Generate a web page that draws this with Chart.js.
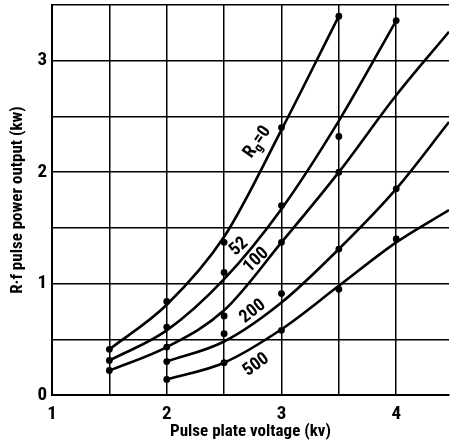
<!DOCTYPE html>
<html>
<head>
<meta charset="utf-8">
<script src="https://cdn.jsdelivr.net/npm/chart.js@4/dist/chart.umd.min.js"></script>
<style>
  html, body { margin: 0; padding: 0; background: #fff; }
  #wrap { width: 453px; height: 446px; position: relative; }
</style>
</head>
<body>
<div id="wrap"><canvas id="c" width="453" height="446"></canvas></div>
<script>
// ---- data ----
const xTicks = [1, 2, 3, 4];
const yTicks = [0, 1, 2, 3];
const seriesNames = ['0', '52', '100', '200', '500'];

// fitted smooth curves (x in kv, y in kw)
const curveX_R0   = [1.5, 2.0, 2.5, 3.0, 3.5];
const curveY_R0   = [0.41, 0.81, 1.42, 2.38, 3.40];
const curveX_R52  = [1.5, 2.0, 2.5, 3.0, 3.5, 4.0];
const curveY_R52  = [0.31, 0.58, 1.04, 1.67, 2.46, 3.36];
const curveX_R100 = [1.5, 2.0, 2.5, 3.0, 3.5, 4.0, 4.46];
const curveY_R100 = [0.22, 0.43, 0.76, 1.37, 2.00, 2.69, 3.26];
const curveX_R200 = [2.0, 2.5, 3.0, 3.5, 4.0, 4.46];
const curveY_R200 = [0.30, 0.48, 0.83, 1.31, 1.85, 2.45];
const curveX_R500 = [2.0, 2.5, 3.0, 3.5, 4.0, 4.46];
const curveY_R500 = [0.14, 0.29, 0.59, 0.98, 1.37, 1.66];

// measured points
const dotX_R0   = [1.5, 2.0, 2.5, 3.0, 3.5];
const dotY_R0   = [0.41, 0.84, 1.37, 2.40, 3.40];
const dotX_R52  = [1.5, 2.0, 2.5, 3.0, 3.5, 4.0];
const dotY_R52  = [0.31, 0.61, 1.10, 1.70, 2.32, 3.36];
const dotX_R100 = [1.5, 2.0, 2.5, 3.0, 3.5];
const dotY_R100 = [0.22, 0.43, 0.71, 1.37, 2.00];
const dotX_R200 = [2.0, 2.5, 3.0, 3.5, 4.0];
const dotY_R200 = [0.30, 0.55, 0.91, 1.31, 1.85];
const dotX_R500 = [2.0, 2.5, 3.0, 3.5, 4.0];
const dotY_R500 = [0.14, 0.29, 0.58, 0.95, 1.40];

// curve label anchors (data units) and angles
const labelX     = [2.79, 2.63, 2.78, 2.75, 2.78];
const labelY     = [2.27, 1.33, 1.21, 0.75, 0.27];
const labelAngle = [-55, -42, -44, -38, -36];

const FONT = '"Liberation Sans Narrow", "Roboto Condensed", "DejaVu Sans Condensed", "Liberation Sans", sans-serif';

function pts(xs, ys) { return xs.map((x, i) => ({ x: x, y: ys[i] })); }

const curves = [
  pts(curveX_R0, curveY_R0), pts(curveX_R52, curveY_R52), pts(curveX_R100, curveY_R100),
  pts(curveX_R200, curveY_R200), pts(curveX_R500, curveY_R500)
];
const dots = [
  pts(dotX_R0, dotY_R0), pts(dotX_R52, dotY_R52), pts(dotX_R100, dotY_R100),
  pts(dotX_R200, dotY_R200), pts(dotX_R500, dotY_R500)
];

const datasets = [];
curves.forEach((d, i) => datasets.push({
  label: 'Rg=' + seriesNames[i], data: d, showLine: true,
  borderColor: '#000', borderWidth: 2.6, pointRadius: 0,
  cubicInterpolationMode: 'monotone', fill: false
}));
dots.forEach((d, i) => datasets.push({
  label: 'points ' + seriesNames[i], data: d, showLine: false,
  pointRadius: 3.4, pointBackgroundColor: '#000', pointBorderColor: '#000', pointBorderWidth: 0
}));

const labelPlugin = {
  id: 'curveLabels',
  afterDatasetsDraw(chart) {
    const ctx = chart.ctx, xs = chart.scales.x, ys = chart.scales.y;
    ctx.save();
    ctx.fillStyle = '#000';
    seriesNames.forEach((name, i) => {
      const px = xs.getPixelForValue(labelX[i]);
      const py = ys.getPixelForValue(labelY[i]);
      ctx.save();
      ctx.translate(px, py);
      ctx.rotate(labelAngle[i] * Math.PI / 180);
      ctx.textBaseline = 'middle';
      if (i === 0) {
        ctx.font = 'bold 18px ' + FONT;
        const wR = ctx.measureText('R').width;
        ctx.font = 'bold 13px ' + FONT;
        const wg = ctx.measureText('g').width;
        ctx.font = 'bold 18px ' + FONT;
        const wE = ctx.measureText('=0').width;
        let x0 = -(wR + wg + wE) / 2;
        ctx.textAlign = 'left';
        ctx.fillText('R', x0, 0);
        ctx.font = 'bold 13px ' + FONT;
        ctx.fillText('g', x0 + wR, 5);
        ctx.font = 'bold 18px ' + FONT;
        ctx.fillText('=0', x0 + wR + wg, 0);
      } else {
        ctx.font = 'bold 18px ' + FONT;
        ctx.textAlign = 'center';
        ctx.fillText(name, 0, 0);
      }
      ctx.restore();
    });
    ctx.restore();
  }
};

function noPad(s) { s.paddingTop = 0; s.paddingBottom = 0; s.paddingLeft = 0; s.paddingRight = 0; }

new Chart(document.getElementById('c'), {
  type: 'scatter',
  data: { datasets: datasets },
  plugins: [labelPlugin],
  options: {
    responsive: false,
    animation: false,
    events: [],
    layout: { padding: { top: 5, right: 0, left: 0, bottom: 0 } },
    plugins: { legend: { display: false }, tooltip: { enabled: false } },
    scales: {
      x: {
        type: 'linear', min: 1, max: 4.46,
        afterFit(s) { s.height = 51; noPad(s); },
        border: { display: true, color: '#000', width: 2 },
        grid: { color: '#000', lineWidth: 1.5, drawTicks: false },
        ticks: {
          stepSize: 0.5, includeBounds: false, padding: 8, color: '#000',
          font: { family: FONT, size: 19, weight: 'bold' }, maxRotation: 0,
          callback: v => (xTicks.includes(v) ? String(v) : '')
        },
        title: {
          display: true, text: 'Pulse plate voltage (kv)', color: '#000',
          font: { family: FONT, size: 17, weight: 'bold' }, padding: { top: 0, bottom: 4 }
        }
      },
      y: {
        type: 'linear', min: 0, max: 3.5,
        afterFit(s) { s.width = 52; noPad(s); },
        border: { display: true, color: '#000', width: 2 },
        grid: { color: '#000', lineWidth: 1.5, drawTicks: false },
        ticks: {
          stepSize: 0.5, includeBounds: false, padding: 5, color: '#000',
          font: { family: FONT, size: 19, weight: 'bold' },
          callback: v => (yTicks.includes(v) ? String(v) : '')
        },
        title: {
          display: true, text: 'R·f pulse power output (kw)', color: '#000',
          font: { family: FONT, size: 17, weight: 'bold' }, padding: { top: 8, bottom: 0 }
        }
      }
    }
  }
});
</script>
</body>
</html>
